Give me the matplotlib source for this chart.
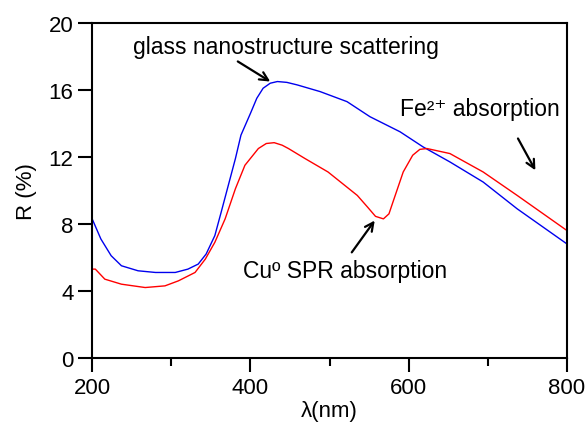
import matplotlib.pyplot as plt
import numpy as np

plt.rcParams['font.family'] = ['Liberation Sans', 'DejaVu Sans']

# blue: glass sample
blue_x = [200, 211, 224, 237, 258, 280, 305, 321, 334, 344, 355, 363, 372, 381, 388,
          400, 408, 416, 425, 434, 446, 459, 488, 522, 551, 589, 618, 652, 694, 737, 770, 800]
blue_y = [8.3, 7.1, 6.1, 5.5, 5.2, 5.1, 5.1, 5.3, 5.6, 6.2, 7.3, 8.7, 10.3, 11.9, 13.3,
          14.6, 15.5, 16.1, 16.4, 16.5, 16.45, 16.3, 15.9, 15.3, 14.4, 13.5, 12.6, 11.7, 10.5, 8.9, 7.8, 6.8]

# red: Cu containing sample
red_x = [200, 204, 216, 237, 267, 292, 309, 330, 343, 355, 368, 381, 393, 410, 420, 430,
         440, 448, 469, 498, 535, 548, 558, 568, 575, 580, 593, 605, 614, 623, 652, 694, 737, 770, 800]
red_y = [5.3, 5.3, 4.7, 4.4, 4.2, 4.3, 4.6, 5.1, 5.9, 6.9, 8.3, 10.1, 11.5, 12.5, 12.8, 12.85,
         12.7, 12.5, 11.9, 11.1, 9.7, 9.0, 8.45, 8.3, 8.6, 9.3, 11.1, 12.1, 12.45, 12.5, 12.2, 11.1, 9.7, 8.6, 7.6]

fig = plt.figure(figsize=(5.87, 4.35), dpi=100)
ax = fig.add_axes([0.157, 0.175, 0.809, 0.770])

ax.plot(blue_x, blue_y, color='#0000ee', lw=1.0)
ax.plot(red_x, red_y, color='#ff0000', lw=1.0)

ax.set_xlim(200, 800)
ax.set_ylim(0, 20)
ax.set_xticks([200, 400, 600, 800])
ax.set_xticks([300, 500, 700], minor=True)
ax.set_yticks([0, 4, 8, 12, 16, 20])
ax.tick_params(axis='both', which='major', direction='out', length=10, width=1.5,
               labelsize=16, top=False, right=False)
ax.tick_params(axis='x', which='minor', direction='out', length=5.5, width=1.5)
for s in ax.spines.values():
    s.set_linewidth(1.5)

ax.set_xlabel('λ(nm)', fontsize=16, labelpad=2)
ax.set_ylabel('R (%)', fontsize=16, labelpad=8)

arrow = dict(arrowstyle='->,head_length=0.6,head_width=0.3', color='black', lw=1.6,
             shrinkA=0, shrinkB=0)
ax.text(252, 18.6, 'glass nanostructure scattering', fontsize=16.5, va='center', ha='left')
ax.annotate('', xy=(425, 16.5), xytext=(384, 17.7), arrowprops=arrow)
ax.text(589, 14.9, 'Fe²⁺ absorption', fontsize=16.5, va='center', ha='left')
ax.annotate('', xy=(760, 11.2), xytext=(738, 13.1), arrowprops=arrow)
ax.text(391, 5.2, 'Cuº SPR absorption', fontsize=16.5, va='center', ha='left')
ax.annotate('', xy=(557, 8.2), xytext=(528, 6.3), arrowprops=arrow)

fig.savefig('out.png', dpi=100)
